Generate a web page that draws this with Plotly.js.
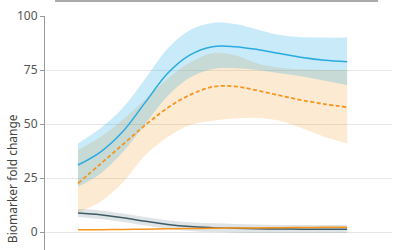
<!DOCTYPE html>
<html><head><meta charset="utf-8">
<script src="https://cdn.plot.ly/plotly-3.0.1.min.js"></script>
<style>html,body{margin:0;padding:0;background:#fff}#c{width:400px;height:250px}</style>
</head><body><div id="c"></div>
<script>
var xs = [0,1,2,3,4,5,6,7,8,9,10,11,12];
var blueMean  = [31,37,46.5,60,73.5,82,85.8,85.8,84.5,82.6,80.8,79.5,78.8];
var blueUpper = [41,48,57.5,71,85,93.5,96.8,96.3,93.8,91.2,90.2,90,90];
var blueLower = [21,27,37,50,63,71.5,75.5,75.8,75,73.5,72,70,68];
var orangeMean  = [22.5,31.5,40.5,49.5,57.5,63.5,67.2,67.4,65.5,63.2,61,59.2,57.8];
var orangeUpper = [38,44,52,61.5,71,78.5,82.8,81.8,78,76,75.2,75,75];
var orangeLower = [9,14,23,35.5,44,49.5,51.5,52.5,52.8,51.5,48,44,41];
var grayMean  = [8.8,8,6.6,5,3.5,2.5,2,1.7,1.5,1.4,1.3,1.3,1.3];
var grayUpper = [10.6,10,8.6,7,5.5,4.5,4,3.7,3.5,3.3,3.2,3.2,3.2];
var grayLower = [7,6,4.6,3,1.5,0.5,0,-0.3,-0.5,-0.5,-0.5,-0.5,-0.5];
var orange2Mean = [1.0,1.1,1.2,1.3,1.45,1.6,1.7,1.8,1.9,2.0,2.1,2.15,2.2];
var yTicks = [0,25,50,75,100];
var yTickText = ['0','25','50','75','100'];
var yTitle = 'Biomarker fold change';

function band(u,l,col){
  return [
    {x:xs,y:u,type:'scatter',mode:'lines',line:{width:0,shape:'spline'},hoverinfo:'skip',showlegend:false},
    {x:xs,y:l,type:'scatter',mode:'lines',line:{width:0,shape:'spline'},fill:'tonexty',fillcolor:col,hoverinfo:'skip',showlegend:false}
  ];
}
var data = [].concat(
  band(orangeUpper,orangeLower,'rgba(247,148,29,0.2)'),
  band(blueUpper,blueLower,'rgba(41,171,226,0.25)'),
  band(grayUpper,grayLower,'rgba(77,106,120,0.18)'),
  [
    {x:xs,y:grayMean,type:'scatter',mode:'lines',line:{color:'#3e5b66',width:1.5,shape:'spline'},showlegend:false},
    {x:xs,y:orange2Mean,type:'scatter',mode:'lines',line:{color:'#f7941d',width:1.5,shape:'spline'},showlegend:false},
    {x:xs,y:orangeMean,type:'scatter',mode:'lines',line:{color:'#f7941d',width:1.8,dash:'4px,2.5px',shape:'spline'},showlegend:false},
    {x:xs,y:blueMean,type:'scatter',mode:'lines',line:{color:'#29abe2',width:1.5,shape:'spline'},showlegend:false}
  ]
);
var layout = {
  width:400,height:250,
  margin:{l:45,r:8,t:16,b:0},
  paper_bgcolor:'#fff',plot_bgcolor:'#fff',
  font:{family:'Noto Sans, Open Sans, sans-serif',color:'#555',size:12},
  showlegend:false,
  xaxis:{range:[-1.47,14.0],showgrid:false,zeroline:false,showline:false,showticklabels:false,ticks:''},
  yaxis:{range:[-8.33,100],tickvals:yTicks,ticktext:yTickText,showgrid:true,gridcolor:'#e6e6e6',gridwidth:1,
    zeroline:false,showline:true,linecolor:'#999',linewidth:1,ticks:'outside',ticklen:4,tickcolor:'#999',
    tickfont:{size:12,color:'#555'}},
  shapes:[{type:'line',xref:'paper',yref:'paper',x0:0.029,x1:0.96,y0:1.064,y1:1.064,line:{color:'#aaa',width:2}}],
  annotations:[{text:yTitle,xref:'paper',yref:'paper',x:-0.095,y:0.303,textangle:-90,showarrow:false,
    xanchor:'center',yanchor:'middle',font:{size:12,color:'#444'}}]
};
Plotly.newPlot('c',data,layout,{displayModeBar:false,staticPlot:true});
</script></body></html>
